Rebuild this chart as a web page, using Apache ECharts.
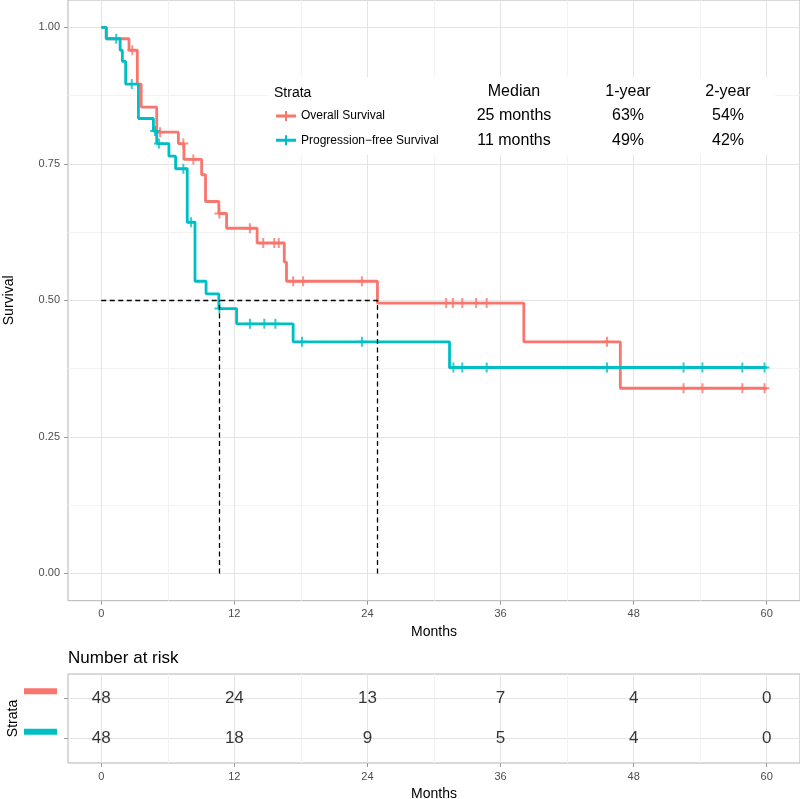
<!DOCTYPE html>
<html>
<head>
<meta charset="utf-8">
<script src="https://cdn.jsdelivr.net/npm/echarts@6/dist/echarts.min.js"></script>
<style>html,body{margin:0;padding:0;background:#fff}#c{width:800px;height:799px}</style>
</head>
<body>
<div id="c"></div>
<script>
// ---- data ----
const seriesNames = ['Overall Survival', 'Progression\u2212free Survival'];
const osTime = [0, 0.45, 2.5, 3.25, 3.6, 5.0, 6.95, 7.45, 9.05, 9.4, 10.6, 11.3, 14.05, 16.5, 16.7, 24.9, 38.1, 46.8, 60];
const osSurv = [1, 0.979, 0.958, 0.896, 0.854, 0.808, 0.787, 0.758, 0.73, 0.681, 0.659, 0.632, 0.605, 0.57, 0.535, 0.495, 0.424, 0.339, 0.339];
const osCensor = [2.8, 5.3, 7.4, 8.3, 10.65, 13.4, 14.6, 15.6, 16.0, 17.3, 18.2, 23.5, 31.1, 31.7, 32.55, 33.8, 34.75, 45.6, 52.5, 54.2, 57.8, 59.8];
const pfsTime = [0, 0.45, 1.7, 1.9, 2.2, 3.35, 4.7, 5.0, 6.1, 6.7, 7.75, 8.45, 9.45, 10.6, 12.2, 17.3, 31.4, 60];
const pfsSurv = [1, 0.979, 0.958, 0.9375, 0.896, 0.833, 0.81, 0.787, 0.764, 0.741, 0.643, 0.535, 0.512, 0.485, 0.457, 0.424, 0.377, 0.377];
const pfsCensor = [1.35, 2.75, 4.85, 5.2, 7.4, 8.1, 10.65, 13.4, 14.7, 15.7, 18.1, 23.5, 31.75, 32.55, 34.75, 45.6, 52.5, 54.2, 57.8, 59.8];
const medianTimes = [10.6, 24.9];
const medianLevel = 0.5;
const riskTimes = [0, 12, 24, 36, 48, 60];
const osRisk = [48, 24, 13, 7, 4, 0];
const pfsRisk = [48, 18, 9, 5, 4, 0];
const xTicks = [0, 12, 24, 36, 48, 60];
const xMinor = [6, 18, 30, 42, 54];
const yTicks = [0, 0.25, 0.5, 0.75, 1];
const yMinor = [0.125, 0.375, 0.625, 0.875];
const tableHeaders = ['Median', '1-year', '2-year'];
const osStats = ['25 months', '63%', '54%'];
const pfsStats = ['11 months', '49%', '42%'];

// ---- styles ----
const RED = '#F8766D', TEAL = '#00BFC4';
const FONT = '"Liberation Sans", Arial, Helvetica, sans-serif';
const plusPath = 'path://M4,0H6V4H10V6H6V10H4V6H0V4H4Z';
const legendIcon = 'path://M0,3.5H9V0H11V3.5H20V6.5H11V10H9V6.5H0Z';
const BORDER = '#b3b3b3', MAJOR = '#e4e4e4', MINOR = '#f2f2f2', TXT = '#4d4d4d', TICK = '#999999';
const COLS = [514, 628, 728];

function stepAt(times, surv, t) {
  let s = surv[0];
  for (let i = 0; i < times.length; i++) if (times[i] <= t) s = surv[i];
  return s;
}

function majorX(grid) {
  return {
    gridIndex: grid, type: 'value', min: -3, max: 63,
    axisLine: { show: false, onZero: false },
    axisTick: { show: true, customValues: xTicks, length: 4, lineStyle: { color: TICK } },
    axisLabel: { customValues: xTicks, color: TXT, fontSize: 11, margin: 8, fontFamily: FONT },
    splitLine: { show: true, lineStyle: { color: MAJOR, width: 1 } },
    name: 'Months', nameLocation: 'middle', nameGap: 24,
    nameTextStyle: { fontSize: 14, color: '#000', fontFamily: FONT }
  };
}
function minorX(grid) {
  return {
    gridIndex: grid, type: 'value', min: -3, max: 63,
    axisLine: { show: false, onZero: false },
    axisTick: { show: false, customValues: xMinor },
    axisLabel: { show: false, customValues: xMinor },
    splitLine: { show: true, lineStyle: { color: MINOR, width: 1 } }
  };
}
function statText(list, y) {
  return list.map((h, i) => ({ type: 'text', x: COLS[i], y: y, z: 5,
    style: { text: h, fontSize: 16, fill: '#000', fontFamily: FONT, textAlign: 'center', textVerticalAlign: 'middle' } }));
}

const chart = echarts.init(document.getElementById('c'));
const option = {
  animation: false,
  textStyle: { fontFamily: FONT },
  title: {
    text: 'Number at risk', left: 68, top: 650, padding: 0,
    textStyle: { fontSize: 17, fontWeight: 'normal', color: '#000', fontFamily: FONT }
  },
  grid: [
    { left: 68, right: 0, top: 0, height: 600.7, show: true, borderColor: BORDER, borderWidth: 1, backgroundColor: '#fff', containLabel: false, outerBoundsMode: 'none' },
    { left: 68, right: 0, top: 674, height: 89, show: true, borderColor: BORDER, borderWidth: 1, backgroundColor: '#fff', containLabel: false, outerBoundsMode: 'none' }
  ],
  xAxis: [majorX(0), minorX(0), majorX(1), minorX(1)],
  yAxis: [
    {
      gridIndex: 0, type: 'value', min: -0.05, max: 1.05,
      axisLine: { show: false, onZero: false },
      axisTick: { show: true, customValues: yTicks, length: 4, lineStyle: { color: TICK } },
      axisLabel: { customValues: yTicks, color: TXT, fontSize: 11, margin: 8, formatter: v => v.toFixed(2) },
      splitLine: { show: true, lineStyle: { color: MAJOR, width: 1 } },
      name: 'Survival', nameLocation: 'middle', nameRotate: 90, nameGap: 52,
      nameTextStyle: { fontSize: 14, color: '#000' }
    },
    {
      gridIndex: 0, type: 'value', min: -0.05, max: 1.05,
      axisLine: { show: false, onZero: false },
      axisTick: { show: false, customValues: yMinor },
      axisLabel: { show: false, customValues: yMinor },
      splitLine: { show: true, lineStyle: { color: MINOR, width: 1 } }
    },
    {
      gridIndex: 1, type: 'value', min: 0.4, max: 2.6,
      axisLine: { show: false, onZero: false },
      axisTick: { show: true, customValues: [1, 2], length: 4, lineStyle: { color: TICK } },
      axisLabel: {
        customValues: [1, 2], margin: 11, verticalAlign: 'bottom', padding: [0, 0, 4, 0],
        formatter: v => (v === 2 ? '{a|}' : '{b|}'),
        rich: {
          a: { width: 33, height: 6, backgroundColor: RED },
          b: { width: 33, height: 6, backgroundColor: TEAL }
        }
      },
      splitLine: { show: true, lineStyle: { color: MAJOR, width: 1 } },
      name: 'Strata', nameLocation: 'middle', nameRotate: 90, nameGap: 48, nameMoveOverlap: false,
      nameTextStyle: { fontSize: 14, color: '#000' }
    }
  ],
  legend: {
    data: [{ name: seriesNames[0], icon: legendIcon }, { name: seriesNames[1], icon: legendIcon }],
    orient: 'vertical', left: 276, top: 110, padding: 0, itemWidth: 20, itemHeight: 10, itemGap: 12.2,
    textStyle: { fontSize: 12, color: '#000' }, selectedMode: false, z: 10
  },
  graphic: [
    { type: 'rect', shape: { x: 268, y: 77, width: 507, height: 78 }, style: { fill: '#fff' }, z: 3 },
    { type: 'text', x: 274, y: 93, z: 5, style: { text: 'Strata', fontSize: 14, fill: '#000', fontFamily: FONT, textVerticalAlign: 'middle' } },
    ...statText(tableHeaders, 92),
    ...statText(osStats, 116),
    ...statText(pfsStats, 140.5)
  ],
  series: [
    {
      name: seriesNames[0], type: 'line', step: 'end', xAxisIndex: 0, yAxisIndex: 0,
      data: osTime.map((t, i) => [t, osSurv[i]]), symbol: 'none',
      lineStyle: { color: RED, width: 2.8 }, itemStyle: { color: RED }, z: 2,
      markLine: {
        silent: true, symbol: 'none', label: { show: false },
        lineStyle: { color: '#000', type: [5, 3.5], width: 1.3 },
        data: [
          [{ coord: [0, medianLevel] }, { coord: [medianTimes[1], medianLevel] }],
          [{ coord: [medianTimes[0], 0] }, { coord: [medianTimes[0], medianLevel] }],
          [{ coord: [medianTimes[1], 0] }, { coord: [medianTimes[1], medianLevel] }]
        ]
      }
    },
    {
      name: 'OS censored', type: 'scatter', xAxisIndex: 0, yAxisIndex: 0,
      data: osCensor.map(t => [t, stepAt(osTime, osSurv, t)]),
      symbol: plusPath, symbolSize: 10, itemStyle: { color: RED }, z: 2
    },
    {
      name: seriesNames[1], type: 'line', step: 'end', xAxisIndex: 0, yAxisIndex: 0,
      data: pfsTime.map((t, i) => [t, pfsSurv[i]]), symbol: 'none',
      lineStyle: { color: TEAL, width: 2.8 }, itemStyle: { color: TEAL }, z: 3
    },
    {
      name: 'PFS censored', type: 'scatter', xAxisIndex: 0, yAxisIndex: 0,
      data: pfsCensor.map(t => [t, stepAt(pfsTime, pfsSurv, t)]),
      symbol: plusPath, symbolSize: 10, itemStyle: { color: TEAL }, z: 3
    },
    {
      name: 'OS at risk', type: 'scatter', xAxisIndex: 2, yAxisIndex: 2,
      data: riskTimes.map((t, i) => [t, 2, osRisk[i]]), symbolSize: 1,
      itemStyle: { color: 'rgba(0,0,0,0)' },
      label: { show: true, position: 'inside', formatter: p => String(p.value[2]), fontSize: 17, color: '#000' }
    },
    {
      name: 'PFS at risk', type: 'scatter', xAxisIndex: 2, yAxisIndex: 2,
      data: riskTimes.map((t, i) => [t, 1, pfsRisk[i]]), symbolSize: 1,
      itemStyle: { color: 'rgba(0,0,0,0)' },
      label: { show: true, position: 'inside', formatter: p => String(p.value[2]), fontSize: 17, color: '#000' }
    }
  ]
};
chart.setOption(option);
</script>
</body>
</html>
